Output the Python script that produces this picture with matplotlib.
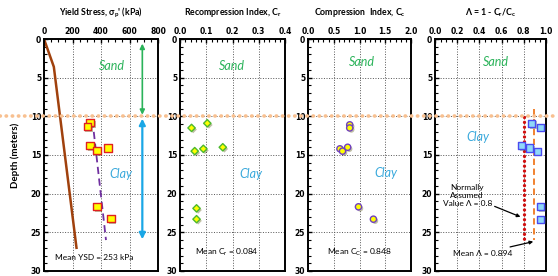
import matplotlib
matplotlib.use("Agg")
import matplotlib.pyplot as plt
from matplotlib.lines import Line2D
import matplotlib.patheffects as pe
import numpy as np

plt.rcParams['font.family'] = ['Lato', 'DejaVu Sans']
plt.rcParams['mathtext.fontset'] = 'custom'
plt.rcParams['mathtext.rm'] = 'Lato'
plt.rcParams['mathtext.it'] = 'Lato:italic'
plt.rcParams['mathtext.bf'] = 'Lato:bold'

# ---- data ----
depth = [10.8, 11.3, 13.8, 14.1, 14.4, 21.7, 23.2]
yield_stress = [324, 303, 324, 448, 372, 372, 469]
cr_depth = [11.5, 10.9, 14.5, 14.2, 14.0, 21.9, 23.3]
cr_vals = [0.044, 0.104, 0.056, 0.089, 0.163, 0.063, 0.063]
cc_depth = [11.1, 11.5, 14.2, 14.5, 14.0, 21.7, 23.3]
cc_vals = [0.81, 0.81, 0.62, 0.67, 0.77, 0.98, 1.27]
lam_depth = [10.9, 11.4, 13.8, 14.1, 14.5, 21.7, 23.3]
lam_vals = [0.87, 0.95, 0.78, 0.85, 0.92, 0.95, 0.95]

vstress_depth = [0, 3.6, 27]
vstress_kpa = [0, 69, 228]
trend_depth = [10.5, 26]
trend_kpa = [340, 435]

mean_ysd = 253
mean_cr = 0.084
mean_cc = 0.848
mean_lam = 0.894
assumed_lam = 0.8
sand_clay_boundary = 10

titles = ["Yield Stress, σ$_\\mathregular{p}$' (kPa)", "Recompression Index, C$_\\mathregular{r}$",
          "Compression  Index, C$_\\mathregular{c}$", "Λ = 1 - C$_\\mathregular{r}$/C$_\\mathregular{c}$"]
xlims = [(0, 800), (0, 0.4), (0, 2.0), (0, 1.0)]
xmajor = [200, 0.1, 0.5, 0.2]
xminor = [50, 0.02, 0.1, 0.05]
xfmt = ["{:.0f}", "{:.1f}", "{:.1f}", "{:.1f}"]

W, H = 558, 276
fig = plt.figure(figsize=(W / 100, H / 100), dpi=100)
px = [(44, 158), (180, 285), (308, 411), (435, 546)]
top_px, bot_px = 39, 271
axes = []
for (l, r) in px:
    ax = fig.add_axes([l / W, 1 - bot_px / H, (r - l) / W, (bot_px - top_px) / H])
    axes.append(ax)

sand_c = '#2bb35a'
clay_c = '#3aa9dc'
shadow = [pe.SimplePatchShadow(offset=(1.2, -1.2), alpha=0.35), pe.Normal()]

for i, ax in enumerate(axes):
    ax.set_xlim(*xlims[i])
    ax.set_ylim(30, 0)
    ax.xaxis.tick_top()
    ax.set_xticks(np.arange(xlims[i][0], xlims[i][1] + 1e-9, xmajor[i]))
    ax.set_xticklabels([xfmt[i].format(v) for v in ax.get_xticks()])
    ax.set_xticks(np.arange(xlims[i][0], xlims[i][1] + 1e-9, xminor[i]), minor=True)
    ax.set_yticks(np.arange(0, 31, 5))
    ax.set_yticks(np.arange(0, 31, 1), minor=True)
    ax.tick_params(which='major', direction='in', length=3, width=1, labelsize=5.5, pad=2)
    ax.tick_params(which='minor', direction='in', length=1.8, width=0.8)
    for lab in ax.get_xticklabels() + ax.get_yticklabels():
        lab.set_fontweight('bold')
        lab.set_family('DejaVu Sans')
    for s in ax.spines.values():
        s.set_linewidth(1.4)
    ax.grid(True, which='major', color='#555555', linestyle=':', linewidth=0.7)
    ax.set_title(titles[i], fontsize=6.3, fontweight='bold', pad=17)

axes[0].set_ylabel('Depth (meters)', fontsize=7, fontweight='bold', labelpad=8)

# Panel 1
ax = axes[0]
ax.plot(vstress_kpa, vstress_depth, color='#a0410d', lw=1.8)
ax.plot(trend_kpa, trend_depth, color='#7030a0', lw=1.3, ls=(0, (4, 2.5)))
sc = ax.scatter(yield_stress, depth, marker='s', s=28, facecolor='#ffff00', edgecolor='#e02020', lw=1.0, zorder=5)
sc.set_path_effects(shadow)
ax.annotate('', xy=(690, 0.6), xytext=(690, 9.8),
            arrowprops=dict(arrowstyle='<|-|>', color=sand_c, lw=1.2, mutation_scale=7, shrinkA=0, shrinkB=0))
ax.annotate('', xy=(690, 10.3), xytext=(690, 25.9),
            arrowprops=dict(arrowstyle='<|-|>', color='#1aa7e6', lw=1.6, mutation_scale=9, shrinkA=0, shrinkB=0))
ax.text(476, 3.5, 'Sand', color=sand_c, style='italic', fontsize=9, ha='center', va='center')
ax.text(537, 17.5, 'Clay', color=clay_c, style='italic', fontsize=9, ha='center', va='center')
ax.text(350, 28.2, f'Mean YSD = {mean_ysd} kPa', fontsize=6, ha='center', va='center')

# Panel 2
ax = axes[1]
sc = ax.scatter(cr_vals, cr_depth, marker='D', s=14, facecolor='#ffff00', edgecolor='#4cb82e', lw=1.0, zorder=5)
sc.set_path_effects(shadow)
ax.text(0.196, 3.5, 'Sand', color=sand_c, style='italic', fontsize=9, ha='center', va='center')
ax.text(0.27, 17.5, 'Clay', color=clay_c, style='italic', fontsize=9, ha='center', va='center')
ax.text(0.18, 27.6, f'Mean C$_\\mathregular{{r}}$ = {mean_cr}', fontsize=6, ha='center', va='center')

# Panel 3
ax = axes[2]
sc = ax.scatter(cc_vals, cc_depth, marker='o', s=20, facecolor='#ffff00', edgecolor='#7040c0', lw=1.0, zorder=5)
sc.set_path_effects(shadow)
ax.text(1.04, 3.0, 'Sand', color=sand_c, style='italic', fontsize=9, ha='center', va='center')
ax.text(1.52, 17.3, 'Clay', color=clay_c, style='italic', fontsize=9, ha='center', va='center')
ax.text(1.0, 27.6, f'Mean C$_\\mathregular{{C}}$ = {mean_cc}', fontsize=6, ha='center', va='center')

# Panel 4
ax = axes[3]
ax.plot([assumed_lam, assumed_lam], [10.1, 25.8], color='#d01010', lw=2.4, ls=(0, (0.01, 1.45)),
        dash_capstyle='round')
ax.plot([mean_lam, mean_lam], [9.0, 26.0], color='#f07820', lw=1.3, ls=(0, (3.5, 2)))
sc = ax.scatter(lam_vals, lam_depth, marker='s', s=26, facecolor='#8fd8f8', edgecolor='#4a4af0', lw=1.0, zorder=5)
sc.set_path_effects(shadow)
ax.text(0.55, 3.0, 'Sand', color=sand_c, style='italic', fontsize=9, ha='center', va='center')
ax.text(0.39, 12.7, 'Clay', color=clay_c, style='italic', fontsize=9, ha='center', va='center')
ax.annotate('Normally\nAssumed\nValue Λ = 0.8', xy=(0.77, 23.0), xytext=(0.29, 20.2),
            fontsize=6, ha='center', va='center',
            arrowprops=dict(arrowstyle='-|>', color='black', lw=0.9, mutation_scale=5, shrinkA=0, shrinkB=0))
ax.annotate(f'Mean Λ = {mean_lam}', xy=(0.885, 26.2), xytext=(0.43, 27.7),
            fontsize=6, ha='center', va='center',
            arrowprops=dict(arrowstyle='-|>', color='black', lw=0.9, mutation_scale=5, shrinkA=0, shrinkB=0))

# horizontal boundary across whole figure
yb = 1 - (top_px + sand_clay_boundary / 30 * (bot_px - top_px)) / H
fig.add_artist(Line2D([0, 1], [yb, yb], transform=fig.transFigure, color='#f8c090', lw=2.6,
                      ls=(0, (0.1, 1.6)), dash_capstyle='round', zorder=0.5))

fig.savefig('out.png', dpi=100)
